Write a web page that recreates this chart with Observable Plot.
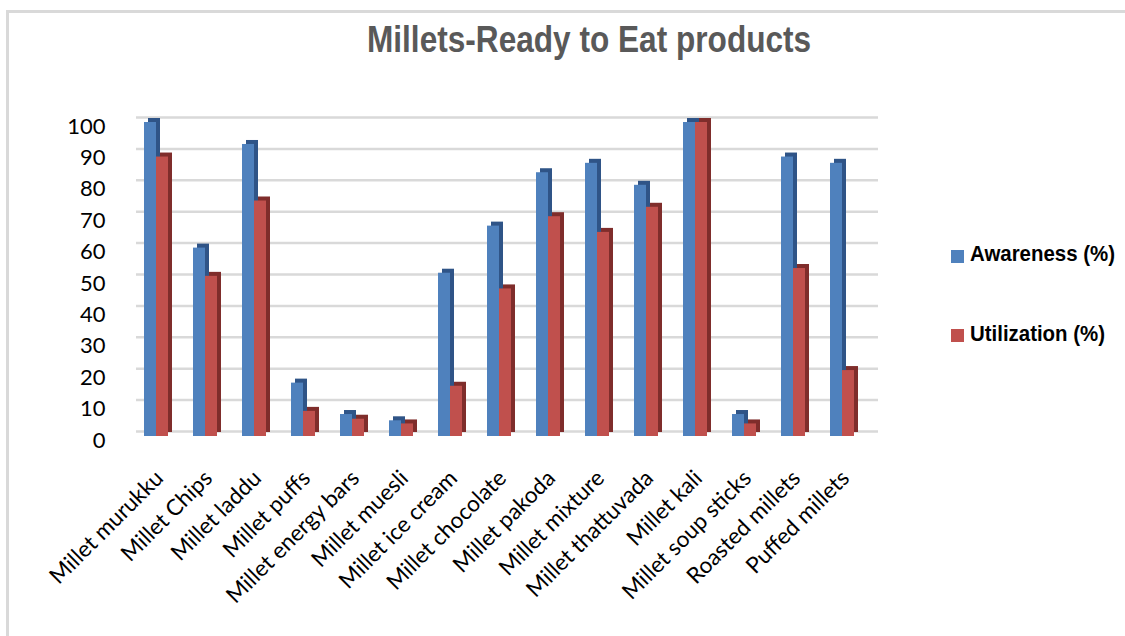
<!DOCTYPE html>
<html>
<head>
<meta charset="utf-8">
<script src="https://cdn.jsdelivr.net/npm/d3@7"></script>
<script src="https://cdn.jsdelivr.net/npm/@observablehq/plot@0.6"></script>
<style>
  body { margin: 0; background: #fff; }
  #wrap { position: relative; width: 1125px; height: 636px; overflow: hidden; background: #fff; }
  #frame { position: absolute; left: 6px; top: 10px; width: 1125px; height: 640px; border-top: 3px solid #d9d9d9; border-left: 3px solid #d9d9d9; box-sizing: border-box; }
  #title { position: absolute; left: 27px; top: 21px; width: 1125px; text-align: center; font-family: "Liberation Sans", Arial, sans-serif; font-weight: bold; font-size: 37px; line-height: 1; color: #595959; }
  #title span { display: inline-block; transform: scaleX(0.854); }
  .leg { position: absolute; font-family: "Liberation Sans", Arial, sans-serif; font-weight: bold; font-size: 21.5px; line-height: 1; color: #000; white-space: nowrap; transform: scaleX(0.95); transform-origin: left center; }
  .sw { position: absolute; width: 13px; height: 13px; }
  #chart { position: absolute; left: 0; top: 0; }
</style>
</head>
<body>
<div id="wrap">
  <div id="chart"></div>
  <div id="frame"></div>
  <div id="title"><span>Millets-Ready to Eat products</span></div>
  <div class="sw" style="left:951px;top:250px;background:#4f81bd"></div>
  <div class="leg" style="left:970px;top:244px">Awareness (%)</div>
  <div class="sw" style="left:951px;top:329px;background:#c0504d"></div>
  <div class="leg" style="left:970px;top:324px">Utilization (%)</div>
</div>
<script>
const categories = ["Millet murukku", "Millet Chips", "Millet laddu", "Millet puffs", "Millet energy bars", "Millet muesli", "Millet ice cream", "Millet chocolate", "Millet pakoda", "Millet mixture", "Millet thattuvada", "Millet kali", "Millet soup sticks", "Roasted millets", "Puffed millets"];
const awareness = [100, 60, 93, 17, 7, 5, 52, 67, 84, 87, 80, 100, 7, 89, 87];
const utilization = [89, 51, 75, 8, 5.5, 4, 16, 47, 70, 65, 73, 100, 4, 53.5, 21];
const yTicks = [0, 10, 20, 30, 40, 50, 60, 70, 80, 90, 100];

const rows = categories.map((c, i) => ({category: c, awareness: awareness[i], utilization: utilization[i]}));

const chart = Plot.plot({
  width: 1125,
  height: 636,
  marginLeft: 128,
  marginRight: 255,
  marginTop: 122,
  marginBottom: 200,
  style: {fontFamily: "Lato, sans-serif", fontSize: "22px", color: "#000", background: "transparent"},
  x: {domain: categories, paddingInner: 0.515, paddingOuter: 0.2575, axis: null},
  y: {domain: [0, 100], axis: null},
  marks: [
    Plot.ruleY(yTicks, {stroke: "#d9d9d9", strokeWidth: 2.5, dx: 8, dy: -5}),
    Plot.barY(rows, {x: "category", y: "awareness", fill: "#2f5487", insetRight: 12, dx: 4, dy: -4}),
    Plot.barY(rows, {x: "category", y: "awareness", fill: "#4f81bd", insetRight: 12}),
    Plot.barY(rows, {x: "category", y: "utilization", fill: "#7f2d2b", insetLeft: 12, dx: 4, dy: -4}),
    Plot.barY(rows, {x: "category", y: "utilization", fill: "#c0504d", insetLeft: 12}),
    Plot.axisY(yTicks, {tickSize: 0, tickPadding: 23, dy: 4, fontSize: 22, label: null}),
    Plot.axisX({tickRotate: -45, tickSize: 0, tickPadding: 34, dx: 3, dy: 4, fontSize: 22.5, label: null})
  ]
});
document.getElementById("chart").appendChild(chart);
</script>
</body>
</html>
